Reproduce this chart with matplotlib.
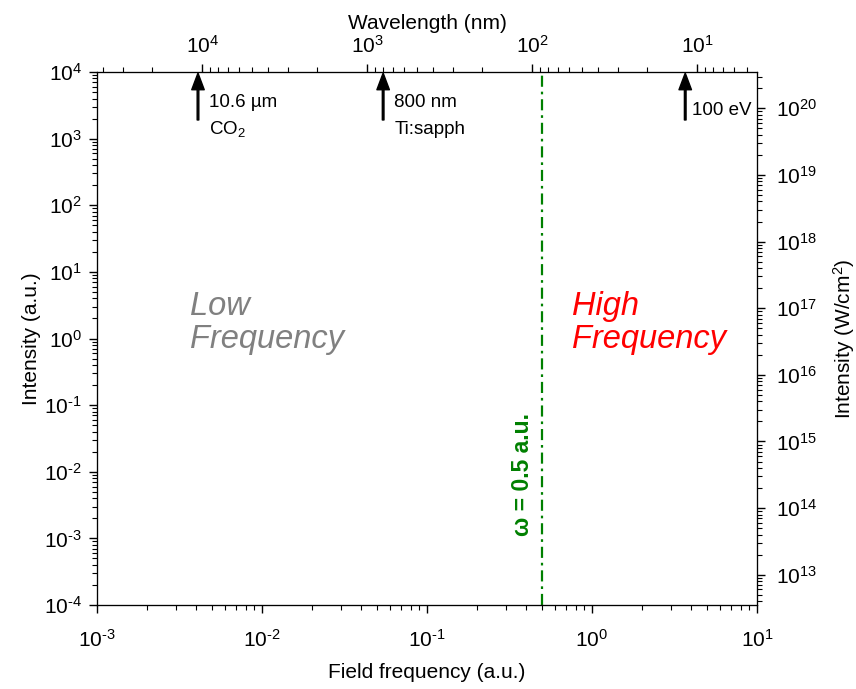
import math
import matplotlib
matplotlib.use('Agg')
import matplotlib.pyplot as plt
from matplotlib.ticker import FuncFormatter

plt.rcParams['font.family'] = ['Liberation Sans', 'DejaVu Sans']
plt.rcParams['mathtext.fontset'] = 'custom'
plt.rcParams['mathtext.rm'] = 'Liberation Sans'
plt.rcParams['mathtext.it'] = 'Liberation Sans:italic'
plt.rcParams['mathtext.bf'] = 'Liberation Sans:bold'
plt.rcParams['axes.unicode_minus'] = False

# axis ranges
freq_range = [1e-3, 1e1]          # field frequency (a.u.)
intensity_range = [1e-4, 1e4]     # intensity (a.u.)

# unit conversions
wavelength_factor = 43.4          # lambda(nm) = factor / omega(a.u.)
intensity_factor = 3.51e16        # W/cm^2 per a.u.

# marked laser sources on the top axis
source_freqs = [wavelength_factor / 10600, wavelength_factor / 800, 100 / 27.211]
source_line1 = ['10.6 \u00b5m', '800 nm', '100 eV']
source_line2 = ['CO$_2$', 'Ti:sapph', '']

cutoff_freq = 0.5


def pow10_label(v, pos):
    # exponent with a plain hyphen, as in the original figure
    e = int(round(math.log10(v)))
    if e < 0:
        return r'$\mathdefault{10^{\text{-}%d}}$' % (-e)
    return r'$\mathdefault{10^{%d}}$' % e


fig = plt.figure(figsize=(8.56, 6.89), dpi=100)
ax = fig.add_axes([0.1133, 0.1219, 0.7710, 0.7736])
ax.set_xscale('log')
ax.set_yscale('log')
ax.set_xlim(freq_range)
ax.set_ylim(intensity_range)
ax.xaxis.set_major_formatter(FuncFormatter(pow10_label))
ax.yaxis.set_major_formatter(FuncFormatter(pow10_label))

top = ax.twiny()
top.set_xscale('log')
top.set_xlim(wavelength_factor / freq_range[0], wavelength_factor / freq_range[1])

right = ax.twinx()
right.set_yscale('log')
right.set_ylim(intensity_range[0] * intensity_factor, intensity_range[1] * intensity_factor)

for a in (ax, top, right):
    a.tick_params(which='major', length=6, width=1, labelsize=15, pad=5)
    a.tick_params(which='minor', length=3.5, width=0.8)
ax.tick_params(axis='x', which='major', pad=11)
right.tick_params(axis='y', which='major', pad=8)

ax.set_xlabel('Field frequency (a.u.)', fontsize=15, labelpad=9)
ax.set_ylabel('Intensity (a.u.)', fontsize=15, labelpad=2)
top.set_xlabel('Wavelength (nm)', fontsize=15, labelpad=4)
right.set_ylabel('Intensity (W/cm$^2$)', fontsize=15, labelpad=10)

# cutoff line
ax.axvline(cutoff_freq, color='#008000', lw=1.6, ls=(0, (5, 2.2, 1.2, 2.2)))
ax.annotate('\u03c9 = 0.5 a.u.', xy=(cutoff_freq, 0.244),
            xycoords=ax.get_xaxis_transform(), xytext=(-6, 0),
            textcoords='offset points', rotation=90, color='#008000',
            fontsize=16.5, fontweight='bold', ha='right', va='center')

# arrows for the laser sources
for f, l1, l2 in zip(source_freqs, source_line1, source_line2):
    ax.annotate('', xy=(f, 0.998), xytext=(f, 0.91),
                xycoords=ax.get_xaxis_transform(),
                arrowprops=dict(facecolor='black', edgecolor='black', width=1.2,
                                headwidth=9, headlength=12, shrink=0))
    if l2:
        ax.annotate(l1, xy=(f, 0.943), xycoords=ax.get_xaxis_transform(),
                    xytext=(8, 0), textcoords='offset points',
                    fontsize=13.5, ha='left', va='center')
        ax.annotate(l2, xy=(f, 0.893), xycoords=ax.get_xaxis_transform(),
                    xytext=(8, 0), textcoords='offset points',
                    fontsize=13.5, ha='left', va='center')
    else:
        ax.annotate(l1, xy=(f, 0.928), xycoords=ax.get_xaxis_transform(),
                    xytext=(5, 0), textcoords='offset points',
                    fontsize=13.5, ha='left', va='center')

ax.text(0.141, 0.529, 'Low\nFrequency', transform=ax.transAxes, color='#808080',
        fontsize=23.5, style='italic', ha='left', va='center', linespacing=1.12)
ax.text(0.72, 0.529, 'High\nFrequency', transform=ax.transAxes, color='red',
        fontsize=23.5, style='italic', ha='left', va='center', linespacing=1.12)

fig.savefig('out.png', dpi=100)
